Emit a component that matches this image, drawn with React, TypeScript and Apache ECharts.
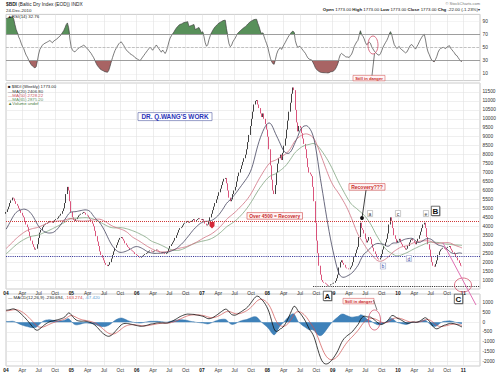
import React, { useEffect, useRef } from 'react';
import * as echarts from 'echarts';

// Weekly closes used only to warm up the indicators (Oct 2002 - Dec 2003, not drawn)
const warmupCloses = [
  1150, 1170, 1200, 1230, 1260, 1300, 1350, 1400, 1450, 1520, 1600, 1680, 1740,
  1780, 1800, 1820, 1800, 1790, 1800, 1850, 1900, 1950, 2000, 2050, 2080, 2050,
  2000, 1950, 1950, 2000, 2050, 2100, 2150, 2200, 2150, 2100, 2050, 2000, 2000,
  2050, 2100, 2150, 2200, 2250, 2300, 2400, 2500, 2600, 2700, 2850, 3000, 3200,
  3400, 3700, 4000, 4200, 4300, 4300, 4200, 4250, 4400, 4500, 4600, 4650, 4700,
];

// Weekly closes of $BDI (Fridays)
const closes2004 = [
  4800, 4950, 5100, 5300, 5450, 5600, 5550, 5400, 5250, 5150, 5000, 4900, 4750,
  4600, 4500, 4300, 4100, 3950, 3700, 3450, 3200, 3000, 2850, 2700, 2750, 3000,
  3350, 3650, 3800, 3950, 4050, 4100, 4150, 4200, 4250, 4300, 4250, 4200, 4300,
  4350, 4400, 4450, 4550, 4600, 4700, 4850, 5000, 5300, 5800, 6200, 6000, 5400, 4800,
];
const closes2005 = [
  4500, 4350, 4300, 4400, 4500, 4600, 4650, 4700, 4750, 4800, 4750, 4650,
  4600, 4500, 4400, 4300, 4150, 4000, 3750, 3450, 3150, 2900, 2600, 2400, 2250,
  2100, 1950, 1850, 1780, 1850, 2000, 2200, 2400, 2600, 2800, 2950, 3100, 3250, 3350,
  3400, 3300, 3200, 3050, 2950, 2850, 2800, 2700, 2650, 2600, 2550, 2450, 2400,
];
const closes2006 = [
  2350, 2300, 2250, 2300, 2350, 2400, 2450, 2500, 2550, 2600, 2650, 2600, 2550,
  2600, 2650, 2700, 2650, 2600, 2550, 2500, 2550, 2500, 2450, 2500, 2600, 2750,
  2900, 3000, 3100, 3200, 3350, 3500, 3650, 3800, 3900, 3950, 4050, 4150, 4200,
  4250, 4300, 4200, 4250, 4300, 4350, 4400, 4300, 4350, 4400, 4450, 4400, 4350,
];
const closes2007 = [
  4400, 4300, 4150, 4050, 4100, 4300, 4500, 4700, 4900, 5100, 5300, 5500, 5700,
  5900, 6100, 6300, 6500, 6650, 6700, 6400, 6000, 5600, 5400, 5500, 5800, 6000,
  6200, 6500, 6800, 7000, 7200, 7400, 7600, 7800, 8000, 8300, 8700, 9100, 9600,
  10000, 10400, 10800, 11000, 11050, 10800, 10600, 10300, 10100, 10300, 10000, 9700, 9400,
];
const closes2008 = [
  9000, 8300, 7400, 6600, 6000, 5800, 6300, 7000, 7500, 7800, 8000, 7700, 8100,
  8500, 8900, 9400, 9900, 10400, 10900, 11400, 11750, 11600, 10500, 9800, 9300, 9600,
  9500, 9200, 8900, 8600, 8300, 7800, 7300, 7000, 6900, 6800, 6200, 5400, 4200,
  3200, 2500, 1800, 1300, 1000, 900, 850, 800, 750, 680, 700, 760, 780,
];
const closes2009 = [
  800, 850, 950, 1100, 1300, 1700, 2000, 2100, 1950, 1850, 1700, 1650, 1650,
  1600, 1700, 1800, 2000, 2300, 2500, 2700, 2850, 3400, 4200, 3900, 3800, 3600,
  3300, 3100, 3200, 3400, 3300, 3000, 2800, 2600, 2450, 2300, 2200, 2150, 2250,
  2450, 2700, 2900, 3100, 3300, 3600, 4100, 4500, 4300, 3900, 3500, 3300, 3100,
];
const closes2010 = [
  3200, 3300, 3100, 3000, 2900, 2800, 2700, 2750, 2900, 3100, 3250, 3300, 3200,
  3100, 3000, 3150, 3300, 3500, 3700, 3900, 4100, 4200, 3900, 3400, 3000, 2700,
  2300, 2000, 1800, 1750, 1900, 2100, 2400, 2600, 2700, 2750, 2800, 2750, 2700,
  2800, 2850, 2900, 2750, 2650, 2550, 2450, 2300, 2250, 2100, 1950, 1800, 1773,
];

const rsiTicks = [10, 30, 50, 70, 90];
const macdTicks = [-2000, -1500, -1000, -500, 0, 500, 1000];
const quarterNames = ['', 'Apr', 'Jul', 'Oct'];
const recoveryLevel = 4300;
const supportLevel = 2350;
const bottomLevel = 650;
const bottomLineStart = 2008.7;

const FONT = 'Liberation Sans, Arial, sans-serif';
const X_MIN = 2004;
const X_MAX = 2011.255;

function toYearFrac(ms: number) {
  const d = new Date(ms);
  const y = d.getUTCFullYear();
  const s = Date.UTC(y, 0, 1);
  const e = Date.UTC(y + 1, 0, 1);
  return y + (ms - s) / (e - s);
}

function buildOption() {
  const closes = [
    ...closes2004, ...closes2005, ...closes2006, ...closes2007,
    ...closes2008, ...closes2009, ...closes2010,
  ];
  const all = [...warmupCloses, ...closes];
  const W = warmupCloses.length;
  const WEEK = 7 * 86400000;
  const t0 = Date.UTC(2004, 0, 2);
  const xs = closes.map((_, i) => toYearFrac(t0 + i * WEEK));

  const candles = closes.map((c, i) => {
    const o = all[W + i - 1];
    return [xs[i], o, c, Math.min(o, c), Math.max(o, c)];
  });
  const ma = (n: number) =>
    closes.map((_, i) => {
      let s = 0;
      for (let k = W + i - n + 1; k <= W + i; k++) s += all[Math.max(k, 0)];
      return [xs[i], s / n];
    });

  // RSI(14), Wilder
  const n = 14;
  let ag = 0, al = 0;
  const rsiAll: number[] = new Array(all.length).fill(50);
  for (let k = 1; k < all.length; k++) {
    const ch = all[k] - all[k - 1];
    const g = Math.max(ch, 0), l = Math.max(-ch, 0);
    if (k <= n) { ag += g / n; al += l / n; }
    else { ag = (ag * (n - 1) + g) / n; al = (al * (n - 1) + l) / n; }
    rsiAll[k] = al === 0 ? 100 : 100 - 100 / (1 + ag / al);
  }
  const rsi = closes.map((_, i) => rsiAll[W + i]);

  // MACD(12,26,9)
  const ema = (arr: number[], p: number) => {
    const a = 2 / (p + 1);
    const out: number[] = [];
    let e = arr[0];
    arr.forEach((v) => { e = e + a * (v - e); out.push(e); });
    return out;
  };
  const e12 = ema(all, 12), e26 = ema(all, 26);
  const macdAll = all.map((_, k) => e12[k] - e26[k]);
  const sigAll = ema(macdAll, 9);
  const macd = closes.map((_, i) => [xs[i], macdAll[W + i]]);
  const sig = closes.map((_, i) => [xs[i], sigAll[W + i]]);
  const hist = closes.map((_, i) => [xs[i], macdAll[W + i] - sigAll[W + i]]);

  const fmtX = (v: number) => {
    if (v > 2011.1) return '';
    const q = Math.round((v - Math.floor(v)) * 4) % 4;
    if (q === 0) return '{y|' + String(Math.round(v)).slice(2) + '}';
    return quarterNames[q];
  };
  const xAxis = (gridIndex: number, labels: boolean) => ({
    type: 'value', gridIndex, min: X_MIN, max: X_MAX, interval: 0.25,
    axisLine: { show: false }, axisTick: { show: false },
    splitLine: { show: true, lineStyle: { color: '#e0e0e0', width: 0.6 } },
    axisLabel: {
      show: labels, fontSize: 4.8, color: '#333', margin: 1.5, formatter: fmtX,
      rich: { y: { fontWeight: 'bold', fontSize: 4.8, color: '#111' } },
    },
  });
  const yLabel = { fontSize: 4.8, color: '#333', margin: 2.5, formatter: (v: number) => String(v) };
  const gridBase = { left: 6, right: 20, show: true, borderColor: '#a8a8a8', borderWidth: 0.6, backgroundColor: '#fff' };

  const txt = (x: number, y: number, text: string, o: any = {}) => ({
    type: 'text', x, y, z: 100,
    style: { text, fontSize: 4.6, fill: '#222', fontFamily: FONT, align: 'left', verticalAlign: 'middle', ...o },
  });
  const box = (x: number, y: number, w: number, h: number, stroke: string, fill = '#fff', lw = 0.6) => ({
    type: 'rect', z: 99, shape: { x, y, width: w, height: h }, style: { fill, stroke, lineWidth: lw },
  });
  const smallLetter = (cx: number, cy: number, ch: string, color = '#333', stroke = '#999') => [
    box(cx - 2.6, cy - 3, 5.2, 6, stroke, '#fff', 0.5),
    txt(cx, cy, ch, { align: 'center', fontSize: 5, fill: color }),
  ];
  const bigLetter = (cx: number, cy: number, ch: string) => [
    { type: 'rect', z: 98, shape: { x: cx - 3.6, y: cy - 4.2, width: 8.4, height: 9.4 }, style: { fill: '#777' } },
    box(cx - 4.2, cy - 4.8, 8.4, 9.4, '#333', '#fff', 0.7),
    txt(cx, cy, ch, { align: 'center', fontSize: 8, fontWeight: 'bold', fill: '#111' }),
  ];
  const ell = (cx: number, cy: number, rx: number, ry: number) => ({
    type: 'ellipse', z: 100, shape: { cx, cy, rx, ry }, style: { fill: 'none', stroke: '#d0506a', lineWidth: 0.8 },
  });
  const seg = (x1: number, y1: number, x2: number, y2: number, stroke = '#222', lw = 0.7) => ({
    type: 'line', z: 100, shape: { x1, y1, x2, y2 }, style: { stroke, lineWidth: lw },
  });

  const graphic: any[] = [
    txt(6, 4, '{b|$BDI} (Baltic Dry Index (EOD)) INDX', { fontSize: 4.8, rich: { b: { fontWeight: 'bold', fontSize: 4.8 } } }),
    txt(6, 10, '24-Dec-2010', { fontSize: 4.4 }),
    txt(7.5, 16.3, '▲RSI(14) 32.76', { fontSize: 4.4 }),
    txt(480, 3.6, '© StockCharts.com', { align: 'right', fontSize: 4, fill: '#777' }),
    txt(480, 9.6, '{b|Open} 1773.00 {b|High} 1773.00 {b|Low} 1773.00 {b|Close} 1773.00 {b|Chg} -22.00 (-1.23%)▾', {
      align: 'right', fontSize: 4.4, rich: { b: { fontWeight: 'bold', fontSize: 4.4 } },
    }),
    txt(8, 86.5, '■ $BDI (Weekly) 1773.00', { fontSize: 4.3 }),
    txt(8, 91, '{k|—}MA(20) 2406.80', { fontSize: 4.3, fill: '#333', rich: { k: { fill: '#3b3b5c', fontSize: 4.3 } } }),
    txt(8, 95.3, '{k|—}MA(50) 2728.22', { fontSize: 4.3, fill: '#c85060', rich: { k: { fill: '#c85060', fontSize: 4.3 } } }),
    txt(8, 99.6, '{k|—}MA(65) 2875.20', { fontSize: 4.3, fill: '#5f8f5f', rich: { k: { fill: '#5f8f5f', fontSize: 4.3 } } }),
    txt(8, 103.9, '▲Volume undef', { fontSize: 4.3, fill: '#4a7a3a' }),
    txt(8, 297.5, '— MACD(12,26,9) -230.694, {r|-163.274}, {b|-67.420}', {
      fontSize: 4.4, rich: { r: { fill: '#d04040', fontSize: 4.4 }, b: { fill: '#5a9ad0', fontSize: 4.4 } },
    }),
    box(138, 112.6, 74, 8, '#6a74b0', '#fff', 0.7),
    txt(175, 116.8, "DR. Q.WANG'S WORK", { align: 'center', fontSize: 6.4, fontWeight: 'bold', fill: '#2a34b8' }),
    box(247, 212.6, 55.5, 6.6, '#d04848', '#fff6f6', 0.6),
    txt(274.7, 216, 'Over 4500 = Recovery', { align: 'center', fontSize: 4.9, fontWeight: 'bold', fill: '#c82828' }),
    box(349, 183.6, 36, 6.6, '#d04848', '#fff6f6', 0.6),
    txt(367, 187, 'Recovery???', { align: 'center', fontSize: 5, fontWeight: 'bold', fill: '#c82828' }),
    seg(366, 190.3, 362.3, 216, '#111', 0.8),
    { type: 'circle', z: 101, shape: { cx: 362, cy: 218, r: 1.9 }, style: { fill: '#111' } },
    box(353, 75.4, 32, 5.4, '#d04848', '#fff6f6', 0.5),
    txt(369, 78.2, 'Still in danger', { align: 'center', fontSize: 4.2, fontWeight: 'bold', fill: '#c82828' }),
    seg(372, 75.4, 374.5, 53.5, '#222', 0.6),
    ell(373, 45, 5, 9),
    box(343, 298.4, 31, 5.4, '#d04848', '#fff6f6', 0.5),
    txt(358.5, 301.2, 'Still in danger', { align: 'center', fontSize: 4.2, fontWeight: 'bold', fill: '#c82828' }),
    seg(373.5, 300, 377, 310, '#222', 0.6),
    ell(374.5, 320, 6, 10),
    ell(463, 285, 8.5, 7),
    seg(443, 243, 476, 305, '#e070b4', 1),
    { type: 'polygon', z: 100, shape: { points: [[209.5, 222], [214.5, 222], [214.5, 226], [212, 228.6], [209.5, 226]] }, style: { fill: '#d42838' } },
    ...smallLetter(370, 213.5, 'a'),
    ...smallLetter(383, 266, 'b', '#2a3a9a', '#8890c0'),
    ...smallLetter(398, 213.5, 'c'),
    ...smallLetter(409, 258.5, 'd', '#2a3a9a', '#8890c0'),
    ...smallLetter(426, 213.5, 'e'),
    ...bigLetter(327.5, 296, 'A'),
    ...bigLetter(435.5, 211, 'B'),
    ...bigLetter(458.5, 299, 'C'),
  ];

  const lineS = (name: string, data: any, color: string, xi: number, w = 0.8, extra: any = {}) => ({
    name, type: 'line', xAxisIndex: xi, yAxisIndex: xi, data, showSymbol: false, symbol: 'none',
    lineStyle: { color, width: w }, itemStyle: { color }, silent: true, ...extra,
  });

  return {
    animation: false,
    textStyle: { fontFamily: FONT },
    grid: [
      { ...gridBase, top: 14.4, height: 66.2 },
      { ...gridBase, top: 83, height: 206 },
      { ...gridBase, top: 294, height: 72 },
    ],
    xAxis: [xAxis(0, false), xAxis(1, true), xAxis(2, true)],
    yAxis: [
      {
        type: 'value', gridIndex: 0, position: 'right', min: 0, max: 100,
        axisLine: { show: false }, axisTick: { show: false, customValues: rsiTicks },
        axisLabel: { ...yLabel, customValues: rsiTicks },
        splitLine: { lineStyle: { color: '#ececec', width: 0.6 } },
      },
      {
        type: 'value', gridIndex: 1, position: 'right', min: 500, max: 12000, interval: 500,
        axisLine: { show: false }, axisTick: { show: false },
        axisLabel: { ...yLabel, formatter: (v: number) => (v === 500 || v === 12000 ? '' : String(v)) },
        splitLine: { lineStyle: { color: '#e4e4e4', width: 0.6 } },
      },
      {
        type: 'value', gridIndex: 2, position: 'right', min: -2250, max: 1450,
        axisLine: { show: false }, axisTick: { show: false, customValues: macdTicks },
        axisLabel: { ...yLabel, customValues: macdTicks },
        splitLine: { lineStyle: { color: '#e4e4e4', width: 0.6 } },
      },
    ],
    graphic,
    series: [
      lineS('RSI high', rsi.map((r, i) => [xs[i], Math.max(r, 70)]), '#4f8a4f', 0, 0, {
        lineStyle: { width: 0, opacity: 0 }, areaStyle: { origin: 70, color: '#58905a', opacity: 1 },
      }),
      lineS('RSI low', rsi.map((r, i) => [xs[i], Math.min(r, 30)]), '#a05858', 0, 0, {
        lineStyle: { width: 0, opacity: 0 }, areaStyle: { origin: 30, color: '#a86464', opacity: 1 },
      }),
      lineS('RSI(14)', rsi.map((r, i) => [xs[i], r]), '#444', 0, 0.7, {
        markLine: {
          silent: true, symbol: 'none', label: { show: false },
          data: [
            { yAxis: 70, lineStyle: { color: '#888', type: 'solid', width: 0.8 } },
            { yAxis: 50, lineStyle: { color: '#aaa', type: 'dashed', width: 0.7 } },
            { yAxis: 30, lineStyle: { color: '#888', type: 'solid', width: 0.8 } },
          ],
        },
      }),
      {
        name: '$BDI', type: 'candlestick', xAxisIndex: 1, yAxisIndex: 1, data: candles, barWidth: 1.2, silent: true,
        itemStyle: { color: '#111', color0: '#d22a5a', borderColor: '#111', borderColor0: '#d22a5a', borderWidth: 0.8 },
        markLine: {
          silent: true, symbol: 'none', label: { show: false },
          data: [
            { yAxis: recoveryLevel, lineStyle: { color: '#d03838', type: 'dotted', width: 1 } },
            { yAxis: supportLevel, lineStyle: { color: '#38389a', type: 'dotted', width: 1.1 } },
            [
              { coord: [bottomLineStart, bottomLevel], lineStyle: { color: '#333', type: 'dotted', width: 1.1 } },
              { coord: [X_MAX, bottomLevel] },
            ],
          ],
        },
      },
      lineS('MA(65)', ma(65), '#7fa37f', 1, 0.8),
      lineS('MA(50)', ma(50), '#cf7080', 1, 0.8),
      lineS('MA(20)', ma(20), '#44445e', 1, 0.8),
      lineS('Histogram', hist, '#2e6ea6', 2, 0.5, { areaStyle: { origin: 0, color: '#3f82ba', opacity: 1 } }),
      lineS('Signal', sig, '#d05050', 2, 0.7),
      lineS('MACD', macd, '#111', 2, 0.8),
    ],
  };
}

export default function App() {
  const ref = useRef<HTMLDivElement>(null);
  useEffect(() => {
    const chart = echarts.init(ref.current as HTMLDivElement, null, { renderer: 'svg' });
    chart.setOption(buildOption() as any);
    return () => chart.dispose();
  }, []);
  return (
    <div
      ref={ref}
      style={{ position: 'absolute', left: 0, top: 0, width: 500, height: 374, background: '#fff' }}
    />
  );
}
